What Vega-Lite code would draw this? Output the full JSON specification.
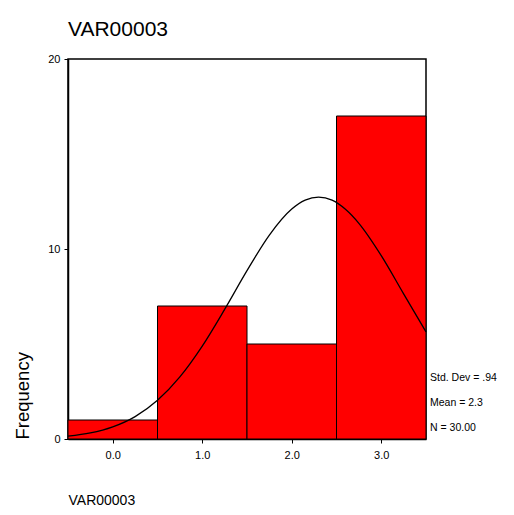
{
  "$schema": "https://vega.github.io/schema/vega-lite/v6.json",
  "width": 358,
  "height": 380,
  "autosize": {"type": "none"},
  "padding": {"left": 68, "top": 59, "right": 88, "bottom": 76},
  "background": "white",
  "config": {
    "font": "Liberation Sans",
    "view": {"stroke": "black", "strokeWidth": 1.5},
    "axis": {"grid": false, "domainColor": "black", "domainWidth": 1.5, "tickColor": "black", "tickSize": 4, "labelColor": "black", "titleColor": "black", "titleFontWeight": "normal"}
  },
  "title": {"text": "VAR00003", "anchor": "start", "frame": "group", "fontSize": 21, "fontWeight": "normal", "font": "Liberation Sans", "color": "black", "offset": 13},
  "datasets": {
    "bars": [
      {"bin_start": -0.5, "bin_end": 0.5, "count": 1},
      {"bin_start": 0.5, "bin_end": 1.5, "count": 7},
      {"bin_start": 1.5, "bin_end": 2.5, "count": 5},
      {"bin_start": 2.5, "bin_end": 3.5, "count": 17}
    ],
    "curve": [
      {"x": -0.5, "y": 0.15},
      {"x": -0.25, "y": 0.32},
      {"x": 0.0, "y": 0.64},
      {"x": 0.25, "y": 1.18},
      {"x": 0.5, "y": 2.04},
      {"x": 0.75, "y": 3.27},
      {"x": 1.0, "y": 4.89},
      {"x": 1.25, "y": 6.82},
      {"x": 1.5, "y": 8.86},
      {"x": 1.75, "y": 10.73},
      {"x": 2.0, "y": 12.1},
      {"x": 2.15, "y": 12.57},
      {"x": 2.3, "y": 12.73},
      {"x": 2.45, "y": 12.57},
      {"x": 2.6, "y": 12.09},
      {"x": 2.75, "y": 11.35},
      {"x": 3.0, "y": 9.65},
      {"x": 3.25, "y": 7.64},
      {"x": 3.5, "y": 5.64}
    ]
  },
  "layer": [
    {
      "data": {"name": "bars"},
      "mark": {"type": "rect", "fill": "#ff0000", "stroke": "black", "strokeWidth": 1},
      "encoding": {
        "x": {"field": "bin_start", "type": "quantitative", "scale": {"domain": [-0.5, 3.5], "nice": false, "zero": false},
          "axis": {"values": [0, 1, 2, 3], "format": ".1f", "labelFontSize": 11, "labelPadding": 6, "title": "VAR00003", "titleFontSize": 14, "titleAnchor": "start", "titlePadding": 33}},
        "x2": {"field": "bin_end"},
        "y": {"field": "count", "type": "quantitative", "scale": {"domain": [0, 20], "nice": false},
          "axis": {"values": [0, 10, 20], "labelFontSize": 11, "labelPadding": 4, "title": "Frequency", "titleFontSize": 18.5, "titleAnchor": "start", "titlePadding": 15}},
        "y2": {"datum": 0}
      }
    },
    {
      "data": {"name": "curve"},
      "mark": {"type": "line", "color": "black", "strokeWidth": 1.3, "interpolate": "monotone"},
      "encoding": {
        "x": {"field": "x", "type": "quantitative"},
        "y": {"field": "y", "type": "quantitative"}
      }
    },
    {
      "data": {"values": [{}]},
      "mark": {"type": "text", "text": ["Std. Dev = .94", "Mean = 2.3", "N = 30.00"], "align": "left", "baseline": "bottom", "fontSize": 10.5, "lineHeight": 25, "dx": 4, "dy": -56, "color": "black"},
      "encoding": {
        "x": {"datum": 3.5, "type": "quantitative"},
        "y": {"datum": 0, "type": "quantitative"}
      }
    }
  ]
}
